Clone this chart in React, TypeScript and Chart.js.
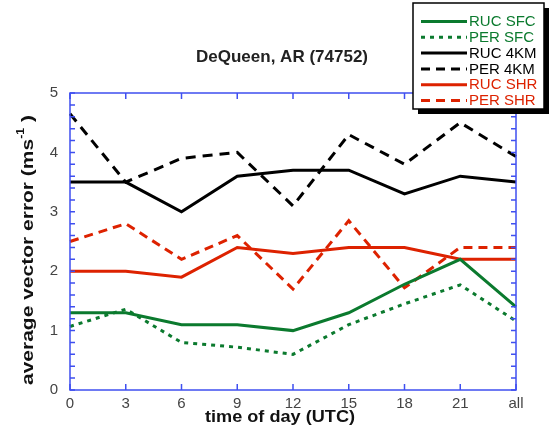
import React, { useEffect, useRef } from "react";
import { Chart, registerables } from "chart.js";

Chart.register(...registerables);

const categories = ["0", "3", "6", "9", "12", "15", "18", "21", "all"];
const rucSfc = [1.3, 1.3, 1.1, 1.1, 1.0, 1.3, 1.78, 2.2, 1.4];
const perSfc = [1.07, 1.36, 0.8, 0.72, 0.6, 1.1, 1.45, 1.77, 1.16];
const ruc4km = [3.5, 3.5, 3.0, 3.6, 3.7, 3.7, 3.3, 3.6, 3.5];
const per4km = [4.65, 3.5, 3.9, 4.0, 3.1, 4.3, 3.8, 4.5, 3.93];
const rucShr = [2.0, 2.0, 1.9, 2.4, 2.3, 2.4, 2.4, 2.2, 2.2];
const perShr = [2.5, 2.8, 2.2, 2.6, 1.7, 2.85, 1.72, 2.4, 2.4];
const yTicks = [0, 1, 2, 3, 4, 5];

const GREEN = "#0b7a2e";
const RED = "#dd2200";
const BLACK = "#000000";
const BLUE = "#3f4ff0";
const FAM = "'Liberation Sans', Arial, sans-serif";

const legendItems = [
  { label: "RUC SFC", color: GREEN, dash: [] as number[] },
  { label: "PER SFC", color: GREEN, dash: [4, 5] },
  { label: "RUC 4KM", color: BLACK, dash: [] as number[] },
  { label: "PER 4KM", color: BLACK, dash: [9, 6] },
  { label: "RUC SHR", color: RED, dash: [] as number[] },
  { label: "PER SHR", color: RED, dash: [9, 6] },
];

function fitText(ctx: CanvasRenderingContext2D, text: string, cx: number, cy: number, w: number, font: string) {
  ctx.save();
  ctx.font = font;
  ctx.textAlign = "center";
  ctx.textBaseline = "middle";
  const mw = ctx.measureText(text).width;
  ctx.translate(cx, cy);
  ctx.scale(w / mw, 1);
  ctx.fillText(text, 0, 0);
  ctx.restore();
}

const framePlugin = {
  id: "frame",
  afterDatasetsDraw(chart: any) {
    const { ctx, chartArea } = chart;
    const { left, right, top, bottom } = chartArea;
    const yScale = chart.scales.y;
    const xScale = chart.scales.x;
    ctx.save();
    ctx.strokeStyle = BLUE;
    ctx.lineWidth = 1.5;
    ctx.setLineDash([]);
    ctx.strokeRect(left, top, right - left, bottom - top);
    ctx.beginPath();
    for (let i = 0; i < categories.length; i++) {
      const x = xScale.getPixelForValue(i);
      ctx.moveTo(x, bottom);
      ctx.lineTo(x, bottom - 6);
      ctx.moveTo(x, top);
      ctx.lineTo(x, top + 6);
    }
    for (let v = 0; v <= 50; v += 2) {
      const y = yScale.getPixelForValue(v / 10);
      ctx.moveTo(left, y);
      ctx.lineTo(left + 5, y);
      ctx.moveTo(right, y);
      ctx.lineTo(right - 5, y);
    }
    ctx.stroke();
    ctx.restore();
  },
  afterDraw(chart: any) {
    const { ctx } = chart;
    ctx.save();
    ctx.fillStyle = "#222";
    fitText(ctx, "DeQueen, AR (74752)", 282, 57, 172, `bold 17px ${FAM}`);
    ctx.fillStyle = "#111";
    fitText(ctx, "time of day (UTC)", 280, 417, 150, `bold 17px ${FAM}`);

    // y title with superscript, fitted to 270px
    ctx.save();
    ctx.translate(28, 250);
    ctx.rotate(-Math.PI / 2);
    const base = "average vector error (ms";
    const sup = "-1";
    const end = " )";
    const bf = `bold 17px ${FAM}`;
    const sf = `bold 10px ${FAM}`;
    ctx.font = bf;
    const wBase = ctx.measureText(base).width;
    const wEnd = ctx.measureText(end).width;
    ctx.font = sf;
    const wSup = ctx.measureText(sup).width;
    const total = wBase + wSup + wEnd;
    ctx.scale(270 / total, 1);
    const x0 = -total / 2;
    ctx.textAlign = "left";
    ctx.textBaseline = "middle";
    ctx.fillStyle = "#111";
    ctx.font = bf;
    ctx.fillText(base, x0, 0);
    ctx.font = sf;
    ctx.fillText(sup, x0 + wBase, -7);
    ctx.font = bf;
    ctx.fillText(end, x0 + wBase + wSup, 0);
    ctx.restore();
    ctx.restore();

    // legend
    ctx.save();
    const bx = 413, by = 3, bw = 131, bh = 106;
    ctx.fillStyle = "#000";
    ctx.fillRect(bx + 5, by + 5, bw, bh);
    ctx.fillStyle = "#fff";
    ctx.fillRect(bx, by, bw, bh);
    ctx.strokeStyle = "#000";
    ctx.lineWidth = 1.5;
    ctx.strokeRect(bx, by, bw, bh);
    ctx.font = `15px ${FAM}`;
    ctx.textBaseline = "middle";
    ctx.textAlign = "left";
    legendItems.forEach((it, i) => {
      const y = 21.5 + i * 15.8;
      ctx.strokeStyle = it.color;
      ctx.lineWidth = 3;
      ctx.setLineDash(it.dash);
      ctx.beginPath();
      ctx.moveTo(421, y);
      ctx.lineTo(467, y);
      ctx.stroke();
      ctx.fillStyle = it.color;
      ctx.fillText(it.label, 469, y + 0.5);
    });
    ctx.restore();
  },
};

export default function App() {
  const ref = useRef<HTMLCanvasElement>(null);
  useEffect(() => {
    document.body.style.margin = "0";
    if (!ref.current) return;
    const mk = (label: string, data: number[], color: string, dash: number[]) => ({
      label,
      data,
      borderColor: color,
      backgroundColor: color,
      borderWidth: 3,
      borderDash: dash,
      pointRadius: 0,
      fill: false,
      tension: 0,
    });
    const chart = new Chart(ref.current, {
      type: "line",
      data: {
        labels: categories,
        datasets: [
          mk("PER SFC", perSfc, GREEN, [4, 5]),
          mk("RUC SFC", rucSfc, GREEN, []),
          mk("PER SHR", perShr, RED, [9, 6]),
          mk("RUC SHR", rucShr, RED, []),
          mk("PER 4KM", per4km, BLACK, [10, 7]),
          mk("RUC 4KM", ruc4km, BLACK, []),
        ],
      },
      options: {
        animation: false,
        responsive: false,
        layout: { padding: { left: 0, right: 35, top: 93, bottom: 0 } },
        plugins: { legend: { display: false }, title: { display: false }, tooltip: { enabled: false } },
        scales: {
          x: {
            type: "category",
            offset: false,
            grid: { display: false, drawTicks: false },
            border: { display: false },
            ticks: {
              color: "#444",
              font: { size: 15, family: FAM },
              padding: 5,
              maxRotation: 0,
              autoSkip: false,
            },
            afterFit: (s: any) => {
              s.height = 40;
            },
          },
          y: {
            min: 0,
            max: 5,
            grid: { display: false, drawTicks: false },
            border: { display: false },
            afterBuildTicks: (s: any) => {
              s.ticks = yTicks.map((v) => ({ value: v }));
            },
            ticks: {
              color: "#444",
              font: { size: 15, family: FAM },
              padding: 12,
            },
            afterFit: (s: any) => {
              s.width = 70;
            },
          },
        },
      } as any,
      plugins: [framePlugin],
    });
    return () => chart.destroy();
  }, []);
  return (
    <div style={{ width: 551, height: 430, background: "#fff" }}>
      <canvas ref={ref} width={551} height={430} style={{ display: "block" }} />
    </div>
  );
}
